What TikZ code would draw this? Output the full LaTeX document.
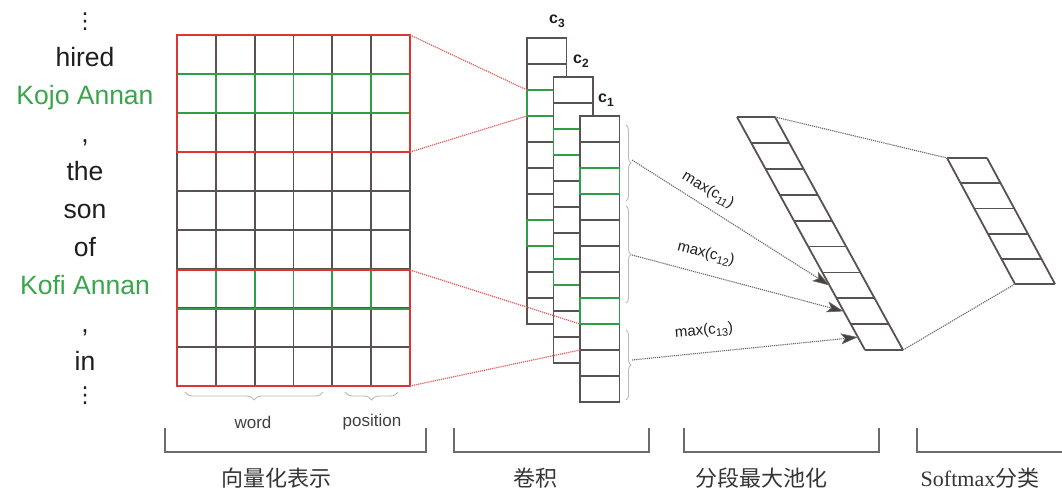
\documentclass[tikz,border=0pt]{standalone}
\usepackage{fontspec}
\setmainfont{Liberation Sans}
\newfontfamily\cjkfont{Noto Sans CJK SC}
\newfontfamily\timesfont{Liberation Serif}
\newfontfamily\dejavufont{DejaVu Sans}
\usetikzlibrary{decorations.pathreplacing,arrows.meta}
\definecolor{gridgray}{RGB}{88,82,82}
\definecolor{redl}{RGB}{222,52,52}
\definecolor{greenl}{RGB}{48,158,68}
\definecolor{greent}{RGB}{58,165,75}
\definecolor{dotgray}{RGB}{105,105,105}
\definecolor{bracegray}{RGB}{185,185,185}
\definecolor{txt}{RGB}{30,30,30}
\newcommand\mkconvcol[3]{%
  \fill[white] (#1,#2) rectangle ++(39.5,286);
  \foreach \k in {1,...,10} \draw[gridline] (#1,{#2+26*\k}) -- ++(39.5,0);
  \draw[gridline] (#1,#2) rectangle ++(39.5,286);
  \draw[greenline] (#1,{#2+52}) rectangle ++(39.5,26);
  \draw[greenline] (#1,{#2+182}) rectangle ++(39.5,26);
  \coordinate (#3) at (#1,#2);
}
\begin{document}
\begin{tikzpicture}[x=1pt,y=-1pt,
  gridline/.style={draw=gridgray,line width=1.8pt},
  greenline/.style={draw=greenl,line width=1.9pt},
  redline/.style={draw=redl,line width=1.9pt},
  reddot/.style={draw=redl!80,line width=1.2pt,dash pattern=on 1.2pt off 0.9pt},
  graydot/.style={draw=dotgray,line width=1.1pt,dash pattern=on 1.2pt off 0.9pt},
  arr/.style={graydot,-{Stealth[length=17pt,width=11pt,inset=4pt,fill=gridgray!80!black,line width=0.6pt]}},
  wordtxt/.style={anchor=base,text=txt,font=\fontsize{26.5}{30}\selectfont,inner sep=0pt},
  greentxt/.style={wordtxt,text=greent},
  vdottxt/.style={text=txt,font=\dejavufont\fontsize{22}{24}\selectfont,inner sep=0pt},
  smalltxt/.style={text=txt!85,font=\fontsize{17}{20}\selectfont,inner sep=0pt},
  maxtxt/.style={text=txt,font=\fontsize{15}{18}\selectfont,inner sep=0pt},
  clabel/.style={text=txt,font=\bfseries\fontsize{16}{18}\selectfont,inner sep=0pt},
  bottomtxt/.style={text=txt!90,font=\cjkfont\fontsize{22}{26}\selectfont,inner sep=0pt},
  bracketline/.style={draw=gray!85!black,line width=1.8pt},
  lbrace/.style={draw=bracegray,line width=0.9pt,decorate},
]
\useasboundingbox[fill=white] (0,0) rectangle (1062,490);

% ---- words ----
\node[vdottxt] (w0) at (85,22) {⋮};
\node[wordtxt] (w1) at (85,66) {hired};
\node[greentxt] (w2) at (85,104) {Kojo Annan};
\node[wordtxt] (w3) at (85,142) {,};
\node[wordtxt] (w4) at (85,180) {the};
\node[wordtxt] (w5) at (85,218) {son};
\node[wordtxt] (w6) at (85,256) {of};
\node[greentxt] (w7) at (85,294) {Kofi Annan};
\node[wordtxt] (w8) at (85,332) {,};
\node[wordtxt] (w9) at (85,370) {in};
\node[vdottxt] (w10) at (85,396) {⋮};

% ---- embedding matrix ----
\foreach \i in {0,...,6} \draw[gridline] ({177+\i*38.83},35) -- ({177+\i*38.83},386);
\foreach \j in {0,...,9} \draw[gridline] (177,{35+\j*39}) -- (410,{35+\j*39});
\foreach \i in {0,...,5} {
  \draw[greenline] ({177+\i*38.83},74) rectangle ++(38.83,39);
  \draw[greenline] ({177+\i*38.83},270) rectangle ++(38.83,39);
}
\draw[redline] (177,35) rectangle (410,152);
\draw[redline] (177,270) rectangle (410,386);
\coordinate (mA) at (410,35);
\coordinate (mB) at (410,152);
\coordinate (mC) at (410,270);
\coordinate (mD) at (410,386);

\draw[lbrace,decoration={brace,amplitude=8pt,mirror}] (185,392) -- (323,392);
\draw[lbrace,decoration={brace,amplitude=8pt,mirror}] (345,392) -- (398,392);
\node[smalltxt] (lw) at (253,422) {word};
\node[smalltxt] (lp) at (372,422) {position};

% ---- convolution columns ----
\mkconvcol{527}{38}{c3}
\mkconvcol{553.5}{77}{c2}
\mkconvcol{580}{116}{c1}
\node[clabel] (lc3) at (557,21) {c\raisebox{-4pt}{\fontsize{12}{12}\selectfont 3}};
\node[clabel] (lc2) at (581,61) {c\raisebox{-4pt}{\fontsize{12}{12}\selectfont 2}};
\node[clabel] (lc1) at (606,100) {c\raisebox{-4pt}{\fontsize{12}{12}\selectfont 1}};

\coordinate (gA) at (527,90);
\coordinate (gB) at (527,116);
\coordinate (gC) at (580,324);
\coordinate (gD) at (580,350);
\draw[reddot] (mA) -- (gA);
\draw[reddot] (mB) -- (gB);
\draw[reddot] (mC) -- (gC);
\draw[reddot] (mD) -- (gD);

% braces right of c1
\draw[lbrace,decoration={brace,amplitude=5pt}] (626,125) -- (626,201);
\draw[lbrace,decoration={brace,amplitude=5pt}] (626,206) -- (626,303);
\draw[lbrace,decoration={brace,amplitude=5pt}] (626,330) -- (626,400);
\coordinate (b1) at (632,160);
\coordinate (b2) at (632,255);
\coordinate (b3) at (632,360);

% ---- pooled column ----
\coordinate (pTL) at (737,117);
\coordinate (pTR) at (775,117);
\coordinate (pBL) at (865,350);
\coordinate (pBR) at (903,350);
\fill[white] (pTL) -- (pTR) -- (pBR) -- (pBL) -- cycle;
\foreach \k in {0,...,9} \draw[gridline] ({737+0.549*25.9*\k},{117+25.9*\k}) -- ++(38,0);
\draw[gridline] (pTL) -- (pBL);
\draw[gridline] (pTR) -- (pBR);
\coordinate (p6) at (829.4,285.4);
\coordinate (p7) at (843.6,311.3);
\coordinate (p8) at (857.9,337.2);

\draw[arr] (b1) -- (p6);
\draw[arr] (b2) -- (p7);
\draw[arr] (b3) -- (p8);
\node[maxtxt,rotate=-31] (mx1) at (708,190) {max(c\raisebox{-3pt}{\fontsize{11}{11}\selectfont 11})};
\node[maxtxt,rotate=-14] (mx2) at (706,254) {max(c\raisebox{-3pt}{\fontsize{11}{11}\selectfont 12})};
\node[maxtxt,rotate=5] (mx3) at (704,331) {max(c\raisebox{-3pt}{\fontsize{11}{11}\selectfont 13})};

% ---- softmax column ----
\coordinate (sTL) at (947,158);
\coordinate (sTR) at (987,158);
\coordinate (sBL) at (1015,284);
\coordinate (sBR) at (1055,284);
\foreach \k in {0,...,5} \draw[gridline] ({947+0.54*25.2*\k},{158+25.2*\k}) -- ++(40,0);
\draw[gridline] (sTL) -- (sBL);
\draw[gridline] (sTR) -- (sBR);
\draw[graydot] (pTR) -- (sTL);
\draw[graydot] (pBR) -- (sBL);

% ---- bottom brackets ----
\draw[bracketline] (165,428) -- (165,452) -- (426,452) -- (426,428);
\draw[bracketline] (454,428) -- (454,452) -- (649,452) -- (649,428);
\draw[bracketline] (684,428) -- (684,452) -- (879,452) -- (879,428);
\draw[bracketline] (917,428) -- (917,452) -- (1070,452);
\node[bottomtxt] (t1) at (276,478) {向量化表示};
\node[bottomtxt] (t2) at (535,478) {卷积};
\node[bottomtxt] (t3) at (761,478) {分段最大池化};
\node[bottomtxt] (t4) at (980,478) {{\timesfont Softmax}分类};
\end{tikzpicture}
\end{document}
